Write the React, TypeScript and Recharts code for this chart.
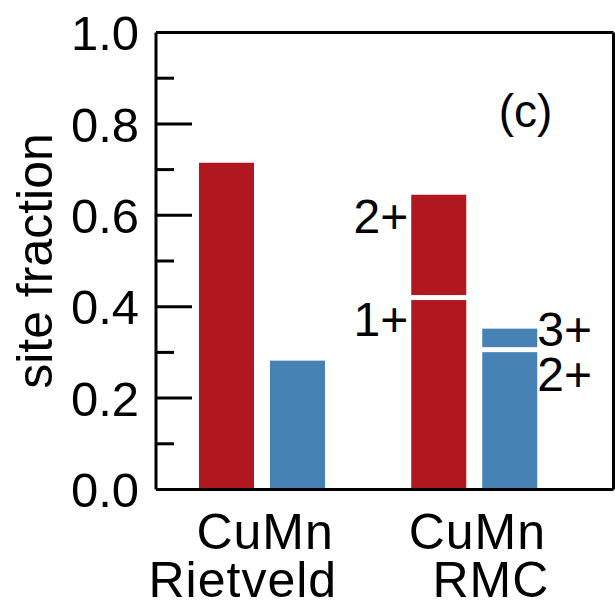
import React from 'react';
import { BarChart, Bar, XAxis, YAxis, LabelList } from 'recharts';

// ---- data ----
const categories = ['Rietveld', 'RMC'];
const categoryLine1 = ['CuMn', 'CuMn'];
const categoryLine2 = ['Rietveld', 'RMC'];
const cuLower = [0.715, 0.42];
const cuUpper = [0, 0.225];
const mnLower = [0.282, 0.306];
const mnUpper = [0, 0.046];
const cuLowerLabels = ['', '1+'];
const cuUpperLabels = ['', '2+'];
const mnLowerLabels = ['', '2+'];
const mnUpperLabels = ['', '3+'];
const yTicks = [0, 0.1, 0.2, 0.3, 0.4, 0.5, 0.6, 0.7, 0.8, 0.9, 1.0];
const yTitle = 'site fraction';
const panelTag = '(c)';

const data = categories.map((c, i) => ({
  name: c,
  line1: categoryLine1[i],
  line2: categoryLine2[i],
  cuLower: cuLower[i],
  cuUpper: cuUpper[i],
  mnLower: mnLower[i],
  mnUpper: mnUpper[i],
  cuLowerLabel: cuLowerLabels[i],
  cuUpperLabel: cuUpperLabels[i],
  mnLowerLabel: mnLowerLabels[i],
  mnUpperLabel: mnUpperLabels[i],
}));

// ---- styles ----
const FONT = '"Liberation Sans", Arial, Helvetica, sans-serif';
const RED = '#B1171F';
const BLUE = '#4682B4';
const GAP = 2.5;

const makeShape = (fill: string, part: 'lower' | 'upper', upperKey: string) => (props: any) => {
  const { x, y, width, height, payload } = props;
  if (!height || height <= 0) return <g />;
  let top = y;
  let h = height;
  if (part === 'lower' && payload && payload[upperKey] > 0) {
    top = y + GAP;
    h = height - GAP;
  }
  if (part === 'upper') {
    h = height - GAP;
  }
  return <rect x={x} y={top} width={width} height={Math.max(h, 0)} fill={fill} />;
};

const makeLabel = (side: 'left' | 'right', dy: number) => (props: any) => {
  const { x, y, width, value } = props;
  if (!value) return null;
  const tx = side === 'left' ? x - 3 : x + width;
  return (
    <text
      x={tx}
      y={y + dy}
      textAnchor={side === 'left' ? 'end' : 'start'}
      fontFamily={FONT}
      fontSize={48}
      fill="#000"
    >
      {value}
    </text>
  );
};

const YTick = (props: any) => {
  const { x, y, payload } = props;
  const v = payload.value as number;
  const major = Math.round(v * 10) % 2 === 0;
  return (
    <g>
      <line x1={x} x2={x + (major ? 36 : 18)} y1={y} y2={y} stroke="#000" strokeWidth={3} />
      {major && (
        <text
          x={x - 17}
          y={y}
          dy="0.36em"
          textAnchor="end"
          fontFamily={FONT}
          fontSize={49}
          fill="#000"
        >
          {v.toFixed(1)}
        </text>
      )}
    </g>
  );
};

const XTick = (props: any) => {
  const { x, y, index } = props;
  const d = data[index];
  return (
    <g>
      <text x={x + 3} y={y + 59} textAnchor="middle" fontFamily={FONT} fontSize={50} letterSpacing={1} fill="#000">
        {d.line1}
      </text>
      <text x={x + 75} y={y + 107} textAnchor="end" fontFamily={FONT} fontSize={50} letterSpacing={1} fill="#000">
        {d.line2}
      </text>
    </g>
  );
};

const YTitle = (props: any) => {
  const vb = props.viewBox || { x: 0, y: 32, width: 156, height: 457 };
  const cx = vb.x + 52;
  const cy = vb.y + vb.height / 2;
  return (
    <text
      x={cx}
      y={cy}
      textAnchor="middle"
      transform={`rotate(-90, ${cx}, ${cy})`}
      fontFamily={FONT}
      fontSize={50}
      fill="#000"
    >
      {yTitle}
    </text>
  );
};

const PanelTag = (props: any) => {
  const vb = props.viewBox || { x: 156, y: 31, width: 457, height: 1 };
  return (
    <text
      x={vb.x + vb.width - 88}
      y={vb.y + vb.height + 94}
      textAnchor="middle"
      fontFamily={FONT}
      fontSize={46}
      fill="#000"
    >
      {panelTag}
    </text>
  );
};

export default function App() {
  return (
    <div style={{ position: 'absolute', left: 0, top: 0, width: 615, height: 605, background: '#fff' }}>
      <BarChart
        width={615}
        height={605}
        data={data}
        margin={{ top: 31.5, right: 0.5, bottom: 0, left: 0 }}
        barSize={55}
        barGap={16}
      >
        <XAxis
          dataKey="name"
          xAxisId={0}
          padding={{ left: 0, right: 33 }}
          tickSize={0}
          tickMargin={0}
          tickLine={false}
          axisLine={{ stroke: '#000', strokeWidth: 3 }}
          tick={<XTick />}
          interval={0}
          height={115.5}
        />
        <XAxis
          dataKey="name"
          xAxisId="top"
          orientation="top"
          height={1}
          tick={false}
          tickLine={false}
          axisLine={{ stroke: '#000', strokeWidth: 3 }}
          label={<PanelTag />}
        />
        <YAxis
          yAxisId={0}
          domain={[0, 1]}
          ticks={yTicks}
          interval={0}
          width={156}
          tickSize={0}
          tickMargin={0}
          tickLine={false}
          axisLine={{ stroke: '#000', strokeWidth: 3 }}
          tick={<YTick />}
          label={<YTitle />}
        />
        <YAxis
          yAxisId="right"
          orientation="right"
          domain={[0, 1]}
          width={1}
          tick={false}
          tickLine={false}
          axisLine={{ stroke: '#000', strokeWidth: 3 }}
        />
        <Bar dataKey="cuLower" stackId="cu" fill={RED} isAnimationActive={false} shape={makeShape(RED, 'lower', 'cuUpper')}>
          <LabelList dataKey="cuLowerLabel" content={makeLabel('left', 38)} />
        </Bar>
        <Bar dataKey="cuUpper" stackId="cu" fill={RED} isAnimationActive={false} shape={makeShape(RED, 'upper', 'cuUpper')}>
          <LabelList dataKey="cuUpperLabel" content={makeLabel('left', 38)} />
        </Bar>
        <Bar dataKey="mnLower" stackId="mn" fill={BLUE} isAnimationActive={false} shape={makeShape(BLUE, 'lower', 'mnUpper')}>
          <LabelList dataKey="mnLowerLabel" content={makeLabel('right', 41)} />
        </Bar>
        <Bar dataKey="mnUpper" stackId="mn" fill={BLUE} isAnimationActive={false} shape={makeShape(BLUE, 'upper', 'mnUpper')}>
          <LabelList dataKey="mnUpperLabel" content={makeLabel('right', 17)} />
        </Bar>
      </BarChart>
    </div>
  );
}
